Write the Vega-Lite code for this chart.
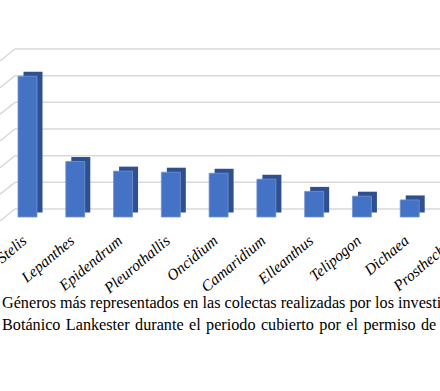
{
  "$schema": "https://vega.github.io/schema/vega-lite/v6.json",
  "width": 425,
  "height": 160,
  "autosize": {"type": "none"},
  "padding": {"left": 15, "top": 57, "right": 0, "bottom": 174},
  "background": "white",
  "config": {"view": {"stroke": null}},
  "datasets": {
    "generos": [
      {"genero": "Stelis", "n": 264},
      {"genero": "Lepanthes", "n": 104},
      {"genero": "Epidendrum", "n": 86},
      {"genero": "Pleurothallis", "n": 84},
      {"genero": "Oncidium", "n": 82},
      {"genero": "Camaridium", "n": 71},
      {"genero": "Elleanthus", "n": 48},
      {"genero": "Telipogon", "n": 39},
      {"genero": "Dichaea", "n": 32},
      {"genero": "Prosthechea", "n": 28}
    ],
    "grid": [{"v": 0}, {"v": 50}, {"v": 100}, {"v": 150}, {"v": 200}, {"v": 250}, {"v": 300}]
  },
  "layer": [
    {
      "data": {"name": "grid"},
      "mark": {"type": "rule", "color": "#d9d9d9", "strokeWidth": 1.5, "yOffset": -8},
      "encoding": {
        "y": {"field": "v", "type": "quantitative", "scale": {"domain": [0, 300], "nice": false}, "axis": null}
      }
    },
    {
      "data": {"name": "grid"},
      "mark": {"type": "rule", "color": "#d9d9d9", "strokeWidth": 1.5, "yOffset": -8, "y2Offset": 4, "x2Offset": -15},
      "encoding": {
        "y": {"field": "v", "type": "quantitative"},
        "y2": {"field": "v"},
        "x": {"value": 0},
        "x2": {"value": 0}
      }
    },
    {
      "data": {"name": "generos"},
      "mark": {"type": "bar", "color": "#2f5090", "xOffset": 5.5, "x2Offset": 5.5, "yOffset": -4.5, "y2Offset": -4.5},
      "encoding": {
        "x": {
          "field": "genero", "type": "nominal", "sort": null,
          "scale": {"type": "band", "range": [0, 455], "paddingInner": 0.6025, "paddingOuter": 0.063},
          "axis": {
            "title": null, "domain": false, "ticks": false, "grid": false,
            "labelAngle": -40, "labelFont": "Times New Roman, Liberation Serif, serif", "labelFontStyle": "italic",
            "labelFontSize": 15.5, "labelColor": "black", "labelAlign": "right", "labelBaseline": "middle",
            "labelPadding": 21, "labelOffset": -3, "labelOverlap": false, "labelBound": false
          }
        },
        "y": {"field": "n", "type": "quantitative"}
      }
    },
    {
      "data": {"name": "generos"},
      "mark": {"type": "bar", "color": "#4472c4", "stroke": "#7393d0", "strokeWidth": 0.8},
      "encoding": {
        "x": {"field": "genero", "type": "nominal", "sort": null},
        "y": {"field": "n", "type": "quantitative"}
      }
    }
  ],
  "title": {
    "text": [
      "Géneros más representados en las colectas realizadas por los investigadores",
      "\u00a0Botánico \u200aLankester \u200adurante \u200ael \u200aperiodo \u200acubierto \u200apor \u200ael \u200apermiso \u200ade"
    ],
    "orient": "bottom",
    "anchor": "start",
    "frame": "group",
    "font": "Times New Roman, Liberation Serif, serif",
    "fontSize": 16.2,
    "fontWeight": "normal",
    "color": "black",
    "lineHeight": 22,
    "offset": -1,
    "dx": -13
  }
}
